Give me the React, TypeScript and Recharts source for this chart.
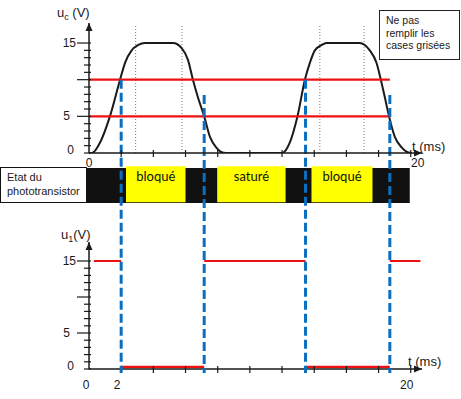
import React from "react";
import {
  ComposedChart,
  Line,
  XAxis,
  YAxis,
  ReferenceLine,
  ReferenceArea,
  ReferenceDot,
} from "recharts";

const W = 461;
const H = 399;
const FONT = '"Liberation Sans", Arial, sans-serif';
const INK = "#1a1a1a";
const RED = "#ee1111";
const BLUE = "#0b6fc0";
const YELLOW = "#ffff00";

// u_c(t) (ms, V)
const ucTime = [
  0, 0.19, 0.68, 1.3, 1.93, 2.24, 2.65, 3.04, 3.48, 5.22, 5.76, 6.15, 6.46,
  6.77, 7.16, 7.52, 7.93, 8.24, 8.5, 11.97, 12.24, 12.48, 12.96, 13.42, 13.73,
  14.04, 14.45, 14.76, 16.83, 17.45, 17.87, 18.14, 18.39, 18.65, 19.01, 19.42,
  19.81, 20.06,
];
const ucVolt = [
  0, 0, 1.4, 5, 10, 12.3, 14, 14.7, 15, 15, 14.3, 12.7, 10, 7.6, 5, 2.2, 0.7,
  0.1, 0, 0, 0.4, 1.4, 5, 10, 12.3, 14, 14.7, 15, 15, 14, 12.3, 10, 7.6, 5, 2.2,
  0.8, 0.1, 0,
];

// horizontal thresholds on u_c
const thresholds = [10, 5];
const thresholdEnd = 18.7;

// switching instants (blue dashed) and where they start on the top graph
const switchTimes = [2.0, 7.16, 13.46, 18.7];
const switchTopVolt = [10, 7.9, 10, 7.9];

// thin dotted guides on the top graph
const guideTimes = [2.9, 5.78, 14.35, 17.1];

// phototransistor states (yellow cells)
const stateLabels = ["bloqué", "saturé", "bloqué"];
const stateStart = [2.3, 7.97, 13.83];
const stateEnd = [6.0, 12.22, 17.62];

// u1(t) segments
const u1Start = [0.3, 2.0, 7.16, 13.46, 18.7];
const u1End = [2.0, 7.16, 13.46, 18.7, 20.6];
const u1Level = [15, 0.3, 15, 0.3, 15];

const xTicks = [0, 2, 4, 6, 8, 10, 12, 14, 16, 18, 20];
const yTicks = [0, 1, 2, 3, 4, 5, 6, 7, 8, 9, 10, 11, 12, 13, 14, 15];

const ucData = ucTime.map((t, i) => ({ t, uc: ucVolt[i] }));
const u1Data = u1Start.flatMap((s, i) => [
  { t: s, u1: u1Level[i] },
  { t: u1End[i], u1: u1Level[i] },
  { t: u1End[i], u1: null },
]);

const X_MAX = 20.7;
const TOP_Y_MAX = 17.73;
const BOT_Y_MAX = 17.64;
// band and dashed-line extents, in top-graph volts (below its axis)
const BAND_HI = -2.05;
const BAND_LO = -6.82;
const CELL_HI = -1.8;
const CELL_LO = -6.7;
const DASH_LO = -30.0;

const makeYTick = (props: any) => {
  const { x, y, payload } = props;
  const v = payload.value;
  const major = v > 0 && v % 5 === 0;
  const dx = v === 15 ? -13 : v === 5 ? -19 : -15;
  const show = v === 0 || v === 5 || v === 15;
  return (
    <g>
      <line
        x1={major ? x - 12 : x - 5}
        x2={x + 2}
        y1={y}
        y2={y}
        stroke={INK}
        strokeWidth={1.2}
      />
      {show && (
        <text
          x={x + dx}
          y={v === 0 ? y - 3.5 : y}
          textAnchor="end"
          dominantBaseline="central"
          fontSize={12}
          fontFamily={FONT}
          fill={INK}
        >
          {v}
        </text>
      )}
    </g>
  );
};

const makeXTick = (labels: Record<number, number>, dy: number) => (props: any) => {
  const { x, y, payload } = props;
  const v = payload.value;
  return (
    <g>
      {v > 0 && (
        <line x1={x} x2={x} y1={y - 3} y2={y + 4} stroke={INK} strokeWidth={1.2} />
      )}
      {labels[v] !== undefined && (
        <text
          x={x + labels[v]}
          y={y + dy}
          textAnchor="middle"
          dominantBaseline="central"
          fontSize={12}
          fontFamily={FONT}
          fill={INK}
        >
          {v}
        </text>
      )}
    </g>
  );
};

const arrowRight = (p: any) => (
  <path d={`M${p.cx},${p.cy} l-8,-3.5 l0,7 z`} fill={INK} />
);
const arrowUp = (p: any) => (
  <path d={`M${p.cx},${p.cy} l-3.5,8 l7,0 z`} fill={INK} />
);

const abs: React.CSSProperties = { position: "absolute", left: 0, top: 0 };
const label: React.CSSProperties = {
  position: "absolute",
  fontFamily: FONT,
  fontSize: 13,
  color: INK,
  lineHeight: "16px",
  whiteSpace: "nowrap",
};

export default function App() {
  return (
    <div style={{ ...abs, width: W, height: H, background: "#fff" }}>
      {/* bottom graph: u1 */}
      <div style={abs}>
        <ComposedChart
          width={W}
          height={H}
          data={u1Data}
          margin={{ top: 242, right: 39, bottom: 10, left: 49 }}
        >
          <XAxis
            type="number"
            dataKey="t"
            domain={[0, X_MAX]}
            ticks={xTicks}
            interval={0}
            allowDataOverflow
            height={20}
            tickSize={0}
            tickMargin={0}
            tickLine={false}
            axisLine={{ stroke: INK, strokeWidth: 1.5 }}
            tick={makeXTick({ 0: -3, 2: -4, 20: -4 }, 16)}
          />
          <YAxis
            type="number"
            domain={[0, BOT_Y_MAX]}
            ticks={yTicks}
            interval={0}
            allowDataOverflow
            width={40}
            tickSize={0}
            tickMargin={0}
            tickLine={false}
            axisLine={{ stroke: INK, strokeWidth: 1.5 }}
            tick={makeYTick}
          />
          <Line
            dataKey="u1"
            stroke={RED}
            strokeWidth={2.2}
            dot={false}
            connectNulls={false}
            isAnimationActive={false}
          />
          <ReferenceDot x={X_MAX} y={0} r={0} ifOverflow="visible" shape={arrowRight} />
          <ReferenceDot x={0} y={BOT_Y_MAX} r={0} ifOverflow="visible" shape={arrowUp} />
        </ComposedChart>
      </div>

      {/* top graph: uc, plus the state band and the switching lines */}
      <div style={abs}>
        <ComposedChart
          width={W}
          height={H}
          data={ucData}
          margin={{ top: 23, right: 39, bottom: 226, left: 49 }}
        >
          <XAxis
            type="number"
            dataKey="t"
            domain={[0, X_MAX]}
            ticks={xTicks}
            interval={0}
            allowDataOverflow
            height={20}
            tickSize={0}
            tickMargin={0}
            tickLine={false}
            axisLine={{ stroke: INK, strokeWidth: 1.5 }}
            tick={makeXTick({ 0: 0, 20: 7 }, 10)}
          />
          <YAxis
            type="number"
            domain={[0, TOP_Y_MAX]}
            ticks={yTicks}
            interval={0}
            allowDataOverflow
            width={40}
            tickSize={0}
            tickMargin={0}
            tickLine={false}
            axisLine={{ stroke: INK, strokeWidth: 1.5 }}
            tick={makeYTick}
          />
          <ReferenceArea
            x1={-0.19}
            x2={19.94}
            y1={BAND_HI}
            y2={BAND_LO}
            fill="#111"
            fillOpacity={1}
            stroke="none"
            ifOverflow="visible"
          />
          {stateLabels.map((s, i) => (
            <ReferenceArea
              key={"cell" + i}
              x1={stateStart[i]}
              x2={stateEnd[i]}
              y1={CELL_HI}
              y2={CELL_LO}
              fill={YELLOW}
              fillOpacity={1}
              stroke="none"
              ifOverflow="visible"
              label={{
                value: s,
                position: "insideTop",
                offset: 6,
                fill: "#111",
                fontSize: 13,
                fontFamily: "Lato, sans-serif",
              }}
            />
          ))}
          {guideTimes.map((t) => (
            <ReferenceLine
              key={"g" + t}
              segment={[
                { x: t, y: 0 },
                { x: t, y: 17.5 },
              ]}
              stroke="#777"
              strokeWidth={1}
              strokeDasharray="1 2"
              ifOverflow="visible"
            />
          ))}
          <Line
            dataKey="uc"
            type="monotone"
            stroke={INK}
            strokeWidth={2}
            dot={false}
            isAnimationActive={false}
          />
          {thresholds.map((v) => (
            <ReferenceLine
              key={"th" + v}
              segment={[
                { x: 0, y: v },
                { x: thresholdEnd, y: v },
              ]}
              stroke={RED}
              strokeWidth={2.2}
              ifOverflow="visible"
            />
          ))}
          {switchTimes.map((t, i) => (
            <ReferenceLine
              key={"sw" + i}
              segment={[
                { x: t, y: switchTopVolt[i] },
                { x: t, y: DASH_LO },
              ]}
              stroke={BLUE}
              strokeWidth={3}
              strokeDasharray="9 4"
              ifOverflow="visible"
            />
          ))}
          <ReferenceDot x={X_MAX} y={0} r={0} ifOverflow="visible" shape={arrowRight} />
          <ReferenceDot x={0} y={TOP_Y_MAX} r={0} ifOverflow="visible" shape={arrowUp} />
        </ComposedChart>
      </div>

      {/* text annotations */}
      <div style={{ ...label, left: 57, top: 5 }}>
        u<sub style={{ fontSize: 9, verticalAlign: "-3px", lineHeight: 0 }}>c</sub> (V)
      </div>
      <div style={{ ...label, left: 412, top: 139 }}>t (ms)</div>
      <div style={{ ...label, left: 61, top: 227 }}>
        u<sub style={{ fontSize: 9, verticalAlign: "-3px", lineHeight: 0 }}>1</sub>(V)
      </div>
      <div style={{ ...label, left: 408, top: 354 }}>t (ms)</div>

      <div
        style={{
          position: "absolute",
          left: 379,
          top: 10,
          width: 81,
          height: 50,
          boxSizing: "border-box",
          border: "1.5px solid #222",
          padding: "3px 0 0 6px",
          fontFamily: FONT,
          fontSize: 10.5,
          lineHeight: "12.5px",
          color: INK,
          background: "#fff",
        }}
      >
        Ne pas
        <br />
        remplir les
        <br />
        cases grisées
      </div>

      <div
        style={{
          position: "absolute",
          left: 0,
          top: 167,
          width: 87,
          height: 36,
          boxSizing: "border-box",
          border: "1.5px solid #111",
          padding: "2px 0 0 6px",
          fontFamily: FONT,
          fontSize: 11,
          lineHeight: "14px",
          color: INK,
          background: "#fff",
        }}
      >
        Etat du
        <br />
        phototransistor
      </div>
    </div>
  );
}
